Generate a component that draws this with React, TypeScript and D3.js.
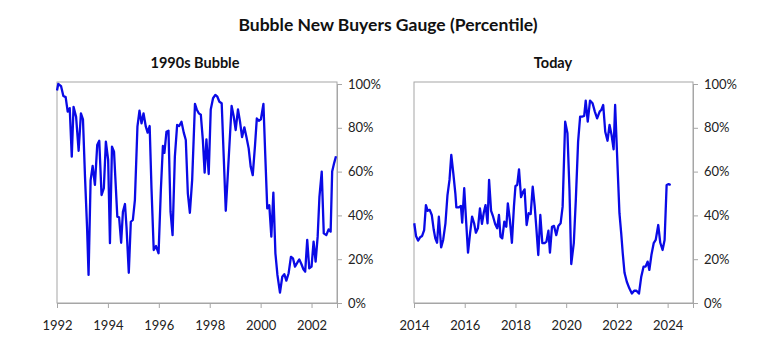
import React, { useEffect, useRef } from 'react';
import * as d3 from 'd3';

// 1990s bubble: decimal year / percentile
const bubbleDates = [
  1992.0, 1992.05, 1992.16, 1992.25, 1992.34, 1992.42, 1992.5, 1992.58, 1992.65, 1992.75,
  1992.85, 1992.94, 1993.02, 1993.1, 1993.18, 1993.24, 1993.32, 1993.4, 1993.49, 1993.58,
  1993.66, 1993.75, 1993.84, 1993.92, 1994.01, 1994.08, 1994.16, 1994.24, 1994.37, 1994.44,
  1994.52, 1994.59, 1994.67, 1994.73, 1994.82, 1994.9, 1994.98, 1995.06, 1995.16, 1995.24,
  1995.32, 1995.4, 1995.49, 1995.56, 1995.64, 1995.71, 1995.8, 1995.89, 1995.99, 1996.08,
  1996.16, 1996.22, 1996.3, 1996.38, 1996.46, 1996.54, 1996.63, 1996.72, 1996.8, 1996.89,
  1996.98, 1997.06, 1997.14, 1997.22, 1997.31, 1997.42, 1997.49, 1997.57, 1997.65, 1997.73,
  1997.8, 1997.87, 1997.96, 1998.04, 1998.13, 1998.22, 1998.3, 1998.38, 1998.47, 1998.55,
  1998.63, 1998.72, 1998.8, 1998.86, 1998.94, 1999.02, 1999.11, 1999.19, 1999.27, 1999.36,
  1999.44, 1999.53, 1999.61, 1999.69, 1999.78, 1999.85, 1999.93, 2000.01, 2000.11, 2000.18,
  2000.26, 2000.34, 2000.42, 2000.5, 2000.58, 2000.66, 2000.76, 2000.85, 2000.93, 2001.01,
  2001.1, 2001.19, 2001.27, 2001.35, 2001.44, 2001.52, 2001.6, 2001.68, 2001.75, 2001.83,
  2001.91, 2002.0, 2002.08, 2002.16, 2002.24, 2002.31, 2002.4, 2002.48, 2002.58, 2002.67,
  2002.75, 2002.81, 2002.89, 2002.96
];
const bubbleValues = [
  97, 100, 99, 94.5, 94, 87.4, 89, 66.8, 89.6, 85,
  69.5, 86.6, 83.9, 57.7, 34.8, 12.8, 56, 62.6, 53.9, 72.1,
  74.1, 49.3, 52.4, 73.7, 65.3, 27.3, 71.4, 69.1, 39.4, 39.1,
  27.5, 41.7, 45.2, 34.8, 13.8, 37.1, 37.9, 47, 80.5, 87.8,
  82, 86.6, 80.5, 77.8, 80.8, 53.1, 24.2, 26, 22.7, 51.6,
  71.7, 68.6, 78.2, 78.7, 41.7, 31, 66.8, 81.3, 80.8, 82.8,
  77.8, 74.4, 50.1, 41.2, 56.2, 90.9, 88.4, 86.6, 86, 74.4,
  59.5, 74.7, 58.9, 88.4, 93.5, 95, 94.2, 91.9, 91.2, 66.8,
  42.1, 60.7, 77.5, 90, 85.4, 79, 88.4, 82.8, 75.7, 80.2,
  75.9, 70.6, 62.2, 58.4, 72.1, 84.3, 83.2, 83.9, 90.9, 68,
  43.2, 44.7, 30.3, 50.4, 22.7, 12.8, 4.7, 12, 13.2, 10.2,
  13.6, 21.1, 20.4, 16.6, 18.4, 19.9, 17.8, 15.4, 14.3, 28.8,
  15.8, 16.6, 28, 18.9, 30.3, 48.5, 60, 31.8, 31, 33.6,
  32.6, 60, 64, 67
];

// Today: decimal year / percentile
const todayDates = [
  2014.01, 2014.08, 2014.16, 2014.24, 2014.32, 2014.4, 2014.47, 2014.54, 2014.62, 2014.7,
  2014.78, 2014.84, 2014.91, 2014.98, 2015.07, 2015.15, 2015.24, 2015.32, 2015.4, 2015.47,
  2015.55, 2015.63, 2015.67, 2015.77, 2015.85, 2015.9, 2015.98, 2016.06, 2016.13, 2016.21,
  2016.29, 2016.37, 2016.44, 2016.52, 2016.6, 2016.68, 2016.75, 2016.82, 2016.9, 2016.96,
  2017.04, 2017.12, 2017.2, 2017.28, 2017.35, 2017.41, 2017.48, 2017.56, 2017.64, 2017.7,
  2017.78, 2017.86, 2017.94, 2018.0, 2018.07, 2018.14, 2018.22, 2018.3, 2018.36, 2018.44,
  2018.52, 2018.6, 2018.68, 2018.76, 2018.82, 2018.9, 2018.98, 2019.06, 2019.14, 2019.22,
  2019.3, 2019.36, 2019.44, 2019.52, 2019.61, 2019.69, 2019.78, 2019.86, 2019.96, 2020.05,
  2020.13, 2020.2, 2020.3, 2020.38, 2020.47, 2020.55, 2020.63, 2020.71, 2020.77, 2020.85,
  2020.94, 2021.04, 2021.13, 2021.22, 2021.32, 2021.38, 2021.46, 2021.54, 2021.63, 2021.71,
  2021.79, 2021.87, 2021.93, 2022.02, 2022.1, 2022.17, 2022.23, 2022.3, 2022.39, 2022.49,
  2022.59, 2022.68, 2022.77, 2022.87, 2022.96, 2023.05, 2023.13, 2023.21, 2023.28, 2023.36,
  2023.45, 2023.53, 2023.63, 2023.71, 2023.8, 2023.88, 2023.96, 2024.04, 2024.12
];
const todayValues = [
  36.4, 30.6, 28.5, 30, 30.6, 33.3, 44.7, 42.1, 42.5, 40.2,
  33.3, 29.5, 27.5, 39.4, 25.4, 28.8, 36.4, 49.3, 56.2, 67.6,
  59.2, 50.1, 43.7, 43.7, 44.3, 36.7, 52.4, 36.4, 23, 31.8,
  39.4, 36.4, 32.1, 34.1, 43.2, 36.1, 41.2, 44.7, 36.4, 56.2,
  42.1, 39.4, 36.1, 34.1, 40.2, 30.3, 29.5, 37.1, 34.8, 45.5,
  37.9, 27.5, 44, 53.4, 53.9, 61, 48.3, 50.8, 51.9, 35.6,
  41, 40.6, 53.1, 44, 34.8, 21.9, 40.2, 27.3, 27.3, 28,
  33, 23, 34.8, 35.2, 31, 35.2, 36.4, 44, 82.8, 77.5,
  51.6, 17.8, 27.3, 47, 73.7, 85.1, 85.1, 85.4, 92.4, 82.8,
  92.4, 91.2, 87.4, 84.3, 87.4, 88.1, 90.4, 78.2, 74.1, 81.3,
  76.7, 70.2, 90.4, 63.8, 41, 31.8, 22.7, 13.8, 9.7, 6.7,
  4.3, 5.6, 5.6, 4.3, 12, 16.6, 16.6, 18.9, 15.1, 21.9,
  27.3, 28.8, 35.6, 27.5, 24.2, 28.8, 53.9, 54.3, 53.9
];

const bubbleTicks = [1992, 1994, 1996, 1998, 2000, 2002];
const todayTicks = [2014, 2016, 2018, 2020, 2022, 2024];
const pctTicks = [0, 20, 40, 60, 80, 100];

const FONT = 'Lato, "Open Sans", sans-serif';

const App = () => {
  const svgRef = useRef(null);

  useEffect(() => {
    const svg = d3.select(svgRef.current);
    svg.selectAll('*').remove();

    svg.append('rect').attr('width', 777).attr('height', 351).attr('fill', '#fff');

    svg.append('text')
      .attr('x', 388).attr('y', 31)
      .attr('text-anchor', 'middle')
      .style('font-family', FONT)
      .style('font-weight', 'bold')
      .style('font-size', '17.5px')
      .style('fill', '#111')
      .text('Bubble New Buyers Gauge (Percentile)');

    const panels = [
      { title: '1990s Bubble', left: 57, right: 337, domain: [1992, 2003], dates: bubbleDates, values: bubbleValues, ticks: bubbleTicks, titleX: 195 },
      { title: 'Today', left: 414, right: 693, domain: [2014, 2025], dates: todayDates, values: todayValues, ticks: todayTicks, titleX: 553 }
    ];

    const top = 84;
    const bottom = 303;

    panels.forEach(p => {
      const x = d3.scaleLinear().domain(p.domain).range([p.left, p.right]);
      const y = d3.scaleLinear().domain([0, 100]).range([bottom, top]);
      const g = svg.append('g');

      g.append('text')
        .attr('x', p.titleX).attr('y', 68)
        .attr('text-anchor', 'middle')
        .style('font-family', FONT)
        .style('font-weight', 'bold')
        .style('font-size', '14.5px')
        .style('fill', '#111')
        .text(p.title);

      // plot frame
      g.append('rect')
        .attr('x', p.left).attr('y', top - 2)
        .attr('width', p.right - p.left).attr('height', bottom - top + 2)
        .attr('fill', 'none')
        .attr('stroke', '#a6a6a6')
        .attr('stroke-width', 1);

      const yAxis = g.append('g')
        .attr('transform', `translate(${p.right},0)`)
        .call(d3.axisRight(y).tickValues(pctTicks).tickSize(5).tickPadding(6).tickFormat(d => `${d}%`));
      yAxis.select('.domain').attr('stroke', '#a6a6a6');
      yAxis.selectAll('line').attr('stroke', '#a6a6a6');
      yAxis.selectAll('text')
        .style('font-family', FONT)
        .style('font-size', '13px')
        .style('fill', '#222');

      const xAxis = g.append('g')
        .attr('transform', `translate(0,${bottom})`)
        .call(d3.axisBottom(x).tickValues(p.ticks).tickSize(5).tickPadding(13).tickFormat(d3.format('d')));
      xAxis.select('.domain').attr('stroke', '#a6a6a6');
      xAxis.selectAll('line').attr('stroke', '#a6a6a6');
      xAxis.selectAll('text')
        .style('font-family', FONT)
        .style('font-size', '13px')
        .style('fill', '#222');

      const pts = p.dates.map((d, i) => [d, p.values[i]]);
      const line = d3.line()
        .x(d => x(d[0]))
        .y(d => y(d[1]));

      g.append('path')
        .datum(pts)
        .attr('d', line)
        .attr('fill', 'none')
        .attr('stroke', '#0a0ae6')
        .attr('stroke-width', 2.3)
        .attr('stroke-linejoin', 'round');
    });
  }, []);

  return (
    <svg
      ref={svgRef}
      width={777}
      height={351}
      style={{ position: 'absolute', left: 0, top: 0 }}
    />
  );
};

export default App;
